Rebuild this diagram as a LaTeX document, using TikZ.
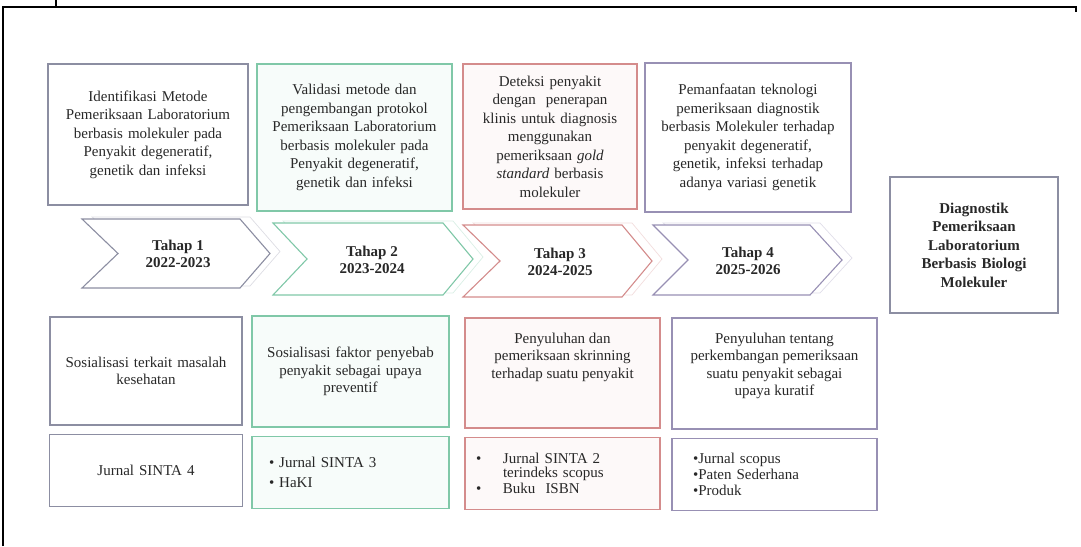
\documentclass[tikz,border=0pt]{standalone}
\usepackage{fontspec}
\setmainfont{Liberation Serif}
\usepackage{tikz}
\usetikzlibrary{positioning}

\definecolor{lgray}{RGB}{140,142,162}
\definecolor{lpurple}{RGB}{152,144,180}
\definecolor{lgreen}{RGB}{128,200,168}
\definecolor{lred}{RGB}{212,140,140}
\definecolor{ink}{RGB}{40,40,40}

\begin{document}
\begin{tikzpicture}[x=1pt,y=-1pt,line width=1.1pt,
      font=\fontsize{15}{18.5}\selectfont,text=ink,
      node distance=8pt]
    \tikzstyle{box}=[draw,inner sep=3pt,align=center]
    \tikzstyle{lowbox}=[box,font=\fontsize{15}{17.5}\selectfont]
    \tikzstyle{lowtext}=[align=center,font=\fontsize{15}{17.5}\selectfont,
      anchor=north,inner sep=0pt]
    \tikzstyle{outbox}=[box,font=\fontsize{15}{16}\selectfont,
      minimum height=72pt]
    \tikzstyle{tahap}=[align=center,font=\fontsize{15}{17}\selectfont\bfseries]
    \tikzstyle{shadow}=[line width=0.7pt,xshift=10pt,yshift=2pt]

    \useasboundingbox (0,0) rectangle (1081,546);
    \draw[black,line width=1.3pt] (3,546) -- (3,7) -- (1076,7) -- (1076,12);
    \draw[black,line width=1.3pt] (56,0) -- (56,7);

    \node[box,draw=lgray,text width=194pt,minimum height=141pt]
      (id) at (148,134.5)
      {Identifikasi Metode\\Pemeriksaan Laboratorium\\berbasis molekuler pada\\
       Penyakit degeneratif,\\genetik dan infeksi};
    \node[box,draw=lgreen,fill=lgreen!6,text width=189pt,minimum height=147pt]
      (val) at (354.5,137.5)
      {Validasi metode dan\\pengembangan protokol\\Pemeriksaan Laboratorium\\
       berbasis molekuler pada\\Penyakit degeneratif,\\genetik dan infeksi};
    \node[box,draw=lred,fill=lred!5,text width=168pt,minimum height=145pt]
      (det) at (550,136.5)
      {Deteksi penyakit\\dengan\ \ penerapan\\klinis untuk diagnosis\\
       menggunakan\\pemeriksaan \textit{gold}\\\textit{standard} berbasis\\molekuler};
    \node[box,draw=lpurple,text width=200pt,minimum height=149pt]
      (pem) at (748,137.5)
      {Pemanfaatan teknologi\\pemeriksaan diagnostik\\berbasis Molekuler terhadap\\
       penyakit degeneratif,\\genetik, infeksi terhadap\\adanya variasi genetik};
    \node[box,draw=lgray,text width=162pt,minimum height=136pt,
      font=\fontsize{15}{18.5}\selectfont\bfseries]
      (diag) at (974,245)
      {Diagnostik\\Pemeriksaan\\Laboratorium\\Berbasis Biologi\\Molekuler};

    \draw[shadow,lgray!30] (82,219) -- (240,219) -- (270,253.5) -- (240,288) -- (82,288) -- (118,253.5) -- cycle;
    \draw[shadow,lgreen!30] (273,223) -- (443,223) -- (473,259) -- (443,295) -- (273,295) -- (307,259) -- cycle;
    \draw[shadow,lred!30] (463,225) -- (622,225) -- (652,261) -- (622,297) -- (463,297) -- (500,261) -- cycle;
    \draw[shadow,lpurple!30] (653,225) -- (810,225) -- (842,260) -- (810,295) -- (653,295) -- (688,260) -- cycle;

    \draw[lgray,fill=white] (82,219) -- (240,219) -- (270,253.5) -- (240,288) -- (82,288) -- (118,253.5) -- cycle;
    \draw[lgreen,fill=white] (273,223) -- (443,223) -- (473,259) -- (443,295) -- (273,295) -- (307,259) -- cycle;
    \draw[lred,fill=white] (463,225) -- (622,225) -- (652,261) -- (622,297) -- (463,297) -- (500,261) -- cycle;
    \draw[lpurple,fill=white] (653,225) -- (810,225) -- (842,260) -- (810,295) -- (653,295) -- (688,260) -- cycle;

    \node[tahap] (t1) at (178,254) {Tahap 1\\2022-2023};
    \node[tahap] (t2) at (372,260) {Tahap 2\\2023-2024};
    \node[tahap] (t3) at (560,262) {Tahap 3\\2024-2025};
    \node[tahap] (t4) at (748,261) {Tahap 4\\2025-2026};

    \node[lowbox,draw=lgray,text width=186pt,minimum height=108pt]
      (sos) at (146,371) {Sosialisasi terkait masalah\\kesehatan};
    \node[lowbox,draw=lgreen,fill=lgreen!6,text width=191pt,minimum height=111pt]
      (fak) at (350.5,371.5) {Sosialisasi faktor penyebab\\penyakit sebagai upaya\\preventif};
    \node[lowbox,draw=lred,fill=lred!5,text width=189pt,minimum height=110pt]
      (sku) at (562.5,373) {};
    \node[lowbox,draw=lpurple,text width=199pt,minimum height=111pt]
      (kur) at (774.5,373.5) {};
    \node[lowtext] (skutxt) at ([yshift=-15pt]sku.north)
      {Penyuluhan dan\\pemeriksaan skrinning\\terhadap suatu penyakit};
    \node[lowtext] (kurtxt) at ([yshift=-15pt]kur.north)
      {Penyuluhan tentang\\perkembangan pemeriksaan\\suatu penyakit sebagai\\upaya kuratif};

    \node[outbox,draw=lgray,text width=187pt,below=of sos] (s4) {Jurnal SINTA 4};
    \node[outbox,draw=lgreen,fill=lgreen!6,text width=163pt,inner xsep=17pt,align=left,
      font=\fontsize{15}{20}\selectfont,below=of fak] (s3)
      {\textbullet\ Jurnal SINTA 3\\\textbullet\ HaKI};
    \node[outbox,draw=lred,fill=lred!5,text width=173pt,inner xsep=11pt,align=left,
      font=\fontsize{15}{14.5}\selectfont,below=of sku] (s2)
      {\makebox[27pt][l]{\textbullet}Jurnal SINTA 2\\\hspace*{27pt}terindeks scopus\\[1pt]
       \makebox[27pt][l]{\textbullet}Buku\ \ ISBN};
    \node[outbox,draw=lpurple,text width=163pt,inner xsep=21pt,align=left,
      below=of kur] (sc)
      {\textbullet Jurnal scopus\\\textbullet Paten Sederhana\\\textbullet Produk};
\end{tikzpicture}
\end{document}
